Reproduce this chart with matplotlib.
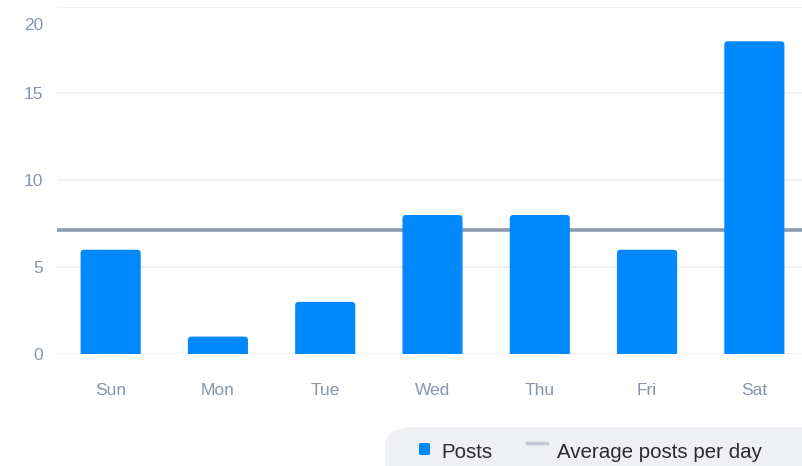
import matplotlib.pyplot as plt
import matplotlib.transforms as mtransforms
from matplotlib.patches import FancyBboxPatch
from matplotlib.lines import Line2D

days = ["Sun", "Mon", "Tue", "Wed", "Thu", "Fri", "Sat"]
posts = [6, 1, 3, 8, 8, 6, 18]
average = sum(posts) / len(posts)
y_ticks = [0, 5, 10, 15, 20]

BAR_COLOR = "#0088ff"
AVG_COLOR = "#8a9bb1"
GRID_COLOR = "#eef0f4"
TICK_COLOR = "#8795ae"

plt.rcParams["font.family"] = ["Liberation Sans", "DejaVu Sans"]

W, H = 803, 466
fig = plt.figure(figsize=(W / 100, H / 100), dpi=100)
left, right, bottom, top = 57, 808, 354, 6.5
ax = fig.add_axes([left / W, (H - bottom) / H, (right - left) / W, (bottom - top) / H])

ax.set_xlim(-0.5, len(days) - 0.5)
ax.set_ylim(0, 20)

# bars with rounded top corners (bottom hidden below the axis)
bar_w = 0.56
px_x = (right - left) / len(days)
px_y = (bottom - top) / 20
r = 3.5 / px_x
for i, v in enumerate(posts):
    p = FancyBboxPatch((i - bar_w / 2, -0.5), bar_w, v + 0.5,
                       boxstyle=f"round,pad=0,rounding_size={r}",
                       mutation_aspect=px_x / px_y,
                       facecolor=BAR_COLOR, edgecolor="none", zorder=3)
    ax.add_patch(p)

ax.axhline(average, color=AVG_COLOR, lw=2.6, zorder=2)

ax.set_yticks(y_ticks)
ax.set_xticks(range(len(days)))
ax.set_xticklabels(days)
ax.grid(axis="y", color=GRID_COLOR, lw=1.3, zorder=0)
ax.tick_params(axis="both", length=0, colors=TICK_COLOR, labelsize=12.5)
ax.tick_params(axis="x", pad=21)
ax.tick_params(axis="y", pad=10)
for s in ax.spines.values():
    s.set_visible(False)

# top label sits a bit lower than its gridline
top_lbl = ax.get_yticklabels()[-1]
top_lbl.set_transform(top_lbl.get_transform() +
                      mtransforms.ScaledTranslation(0, -0.18, fig.dpi_scale_trans))

# legend box
box = FancyBboxPatch((385 / W, -0.05), 440 / W, (H - 427) / H + 0.05,
                     boxstyle="round,pad=0,rounding_size=0.04",
                     transform=fig.transFigure, facecolor="#eff0f4",
                     edgecolor="none", clip_on=False)
fig.patches.append(box)
fig.patches.append(FancyBboxPatch((419 / W, (H - 455) / H), 11 / W, 12 / H,
                                  boxstyle="round,pad=0,rounding_size=0.003",
                                  transform=fig.transFigure, facecolor=BAR_COLOR,
                                  edgecolor="none"))
fig.text(441 / W, (H - 453) / H, "Posts", fontsize=14.8, color="#2b2b2b", va="center")
fig.add_artist(Line2D([527 / W, 547 / W], [(H - 443) / H] * 2, transform=fig.transFigure,
                      color="#c3c9d3", lw=2.5))
fig.text(557 / W, (H - 453) / H, "Average posts per day", fontsize=14.8,
         color="#2b2b2b", va="center")

fig.savefig("out.png", dpi=100)
